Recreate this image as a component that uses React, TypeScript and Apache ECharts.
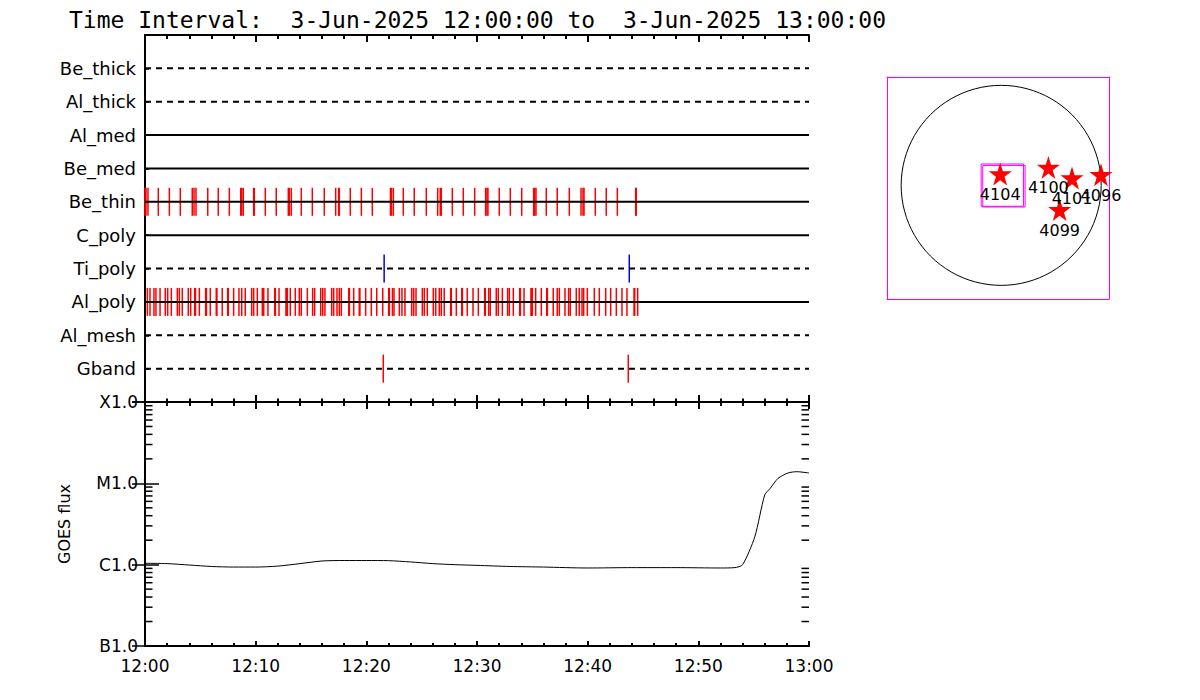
import React, { useEffect, useRef } from "react";
import * as echarts from "echarts";

// ---------- data ----------
const titleText = "Time Interval:  3-Jun-2025 12:00:00 to  3-Jun-2025 13:00:00";
const timeTickLabels = ["12:00", "12:10", "12:20", "12:30", "12:40", "12:50", "13:00"];

const rowNames = ["Be_thick", "Al_thick", "Al_med", "Be_med", "Be_thin", "C_poly", "Ti_poly", "Al_poly", "Al_mesh", "Gband"];
const rowDashed = [true, true, false, false, false, false, true, false, true, true];

// event times in minutes after 12:00
const beThinTimes = [0.0, 0.09, 0.27, 1.2, 2.2, 3.19, 4.27, 4.43, 4.61, 5.67, 6.62, 7.62, 8.65, 8.74, 8.88, 9.82, 9.88,
  10.87, 11.86, 12.95, 13.04, 13.22, 14.12, 15.12, 16.2, 17.23, 17.5, 17.56, 18.55, 19.55, 20.54, 22.18, 22.27, 22.44,
  23.34, 24.33, 25.42, 26.45, 26.68, 26.77, 27.77, 28.76, 29.79, 30.78, 30.9, 30.99, 32.01, 33.01, 34.04, 35.12, 35.21,
  35.33, 36.26, 37.25, 38.34, 39.4, 39.58, 39.67, 40.69, 41.68, 42.68, 44.34, 44.39];
const alPolyTimes = [0.21, 0.45, 0.81, 0.99, 1.36, 1.83, 2.05, 2.38, 2.92, 3.1, 3.37, 3.91, 4.13, 4.49, 4.56, 4.91, 5.48,
  5.55, 5.9, 6.44, 6.5, 6.98, 7.47, 7.53, 8.01, 8.49, 8.74, 9.06, 9.64, 9.82, 10.15, 10.6, 10.73, 11.11, 11.72, 11.78,
  12.11, 12.74, 12.8, 12.86, 13.13, 13.58, 13.94, 14.12, 14.67, 15.15, 15.33, 15.88, 16.06, 16.26, 16.87, 17.05, 17.35,
  17.56, 17.74, 18.41, 18.47, 18.86, 19.36, 19.42, 19.94, 20.45, 20.94, 21.48, 22.02, 22.08, 22.36, 22.5, 22.98, 23.22,
  23.49, 24.1, 24.28, 24.49, 25.06, 25.24, 25.51, 26.05, 26.27, 26.59, 26.77, 27.04, 27.62, 27.68, 28.13, 28.62, 28.68,
  29.12, 29.64, 30.12, 30.69, 30.75, 31.06, 31.2, 31.74, 31.92, 32.29, 32.77, 32.92, 33.28, 33.86, 33.92, 34.25, 34.88,
  34.94, 35.0, 35.3, 35.81, 36.3, 36.36, 36.89, 37.25, 37.44, 37.95, 38.28, 38.43, 38.97, 39.24, 39.49, 39.64, 39.97,
  40.6, 41.05, 41.63, 42.08, 42.59, 43.1, 43.55, 44.19, 44.25, 44.52];
const tiPolyTimes = [21.61, 43.76];
const gbandTimes = [21.53, 43.67];

// GOES 1-8 A flux (W/m^2)
const goesTimes = [0, 2, 4, 6, 8, 10, 12, 14, 16, 18, 20, 22, 24, 26, 28, 30, 33, 36, 40, 44, 48, 52, 53.3, 54.0,
  55.1, 56.0, 56.5, 57.2, 58.1, 58.9, 60];
const goesFlux = [1.04e-6, 1.03e-6, 0.99e-6, 0.95e-6, 0.935e-6, 0.935e-6, 0.96e-6, 1.03e-6, 1.11e-6, 1.125e-6,
  1.125e-6, 1.12e-6, 1.08e-6, 1.03e-6, 1.0e-6, 0.98e-6, 0.95e-6, 0.935e-6, 0.91e-6, 0.92e-6, 0.92e-6, 0.91e-6,
  0.92e-6, 1.0e-6, 2.2e-6, 7.2e-6, 8.7e-6, 1.15e-5, 1.34e-5, 1.39e-5, 1.34e-5];
const goesClassLabels = ["B1.0", "C1.0", "M1.0", "X1.0"]; // 1e-7 .. 1e-4
const goesMinorTicks = [
  2e-7, 3e-7, 4e-7, 5e-7, 6e-7, 7e-7, 8e-7, 9e-7,
  2e-6, 3e-6, 4e-6, 5e-6, 6e-6, 7e-6, 8e-6, 9e-6,
  2e-5, 3e-5, 4e-5, 5e-5, 6e-5, 7e-5, 8e-5, 9e-5,
];

// solar disk (arcsec)
const limbRadius = 946;
const arNumbers = ["4104", "4100", "4101", "4096", "4099"];
const arX = [-9, 447, 670, 944, 553];
const arY = [108, 170, 70, 101, -229];
const fovBoxes = [
  [11, 2, 400, 400],
  [26, -8, 400, 393],
];

const FONT = "DejaVu Sans";
const STAR = "path://M50,0 L61,35 L98,35 L68,57 L79,91 L50,70 L21,91 L32,57 L2,35 L39,35 Z";

const rowValue = (name: string) => rowNames.length - rowNames.indexOf(name);

export default function App() {
  const ref = useRef<HTMLDivElement>(null);
  useEffect(() => {
    if (!ref.current) return;
    const chart = echarts.init(ref.current, null, { renderer: "svg" });

    const timeAxis = (gridIndex: number, position: string, showLabel: boolean, tickLen: number, minorLen: number) => ({
      type: "value",
      gridIndex,
      position,
      min: 0,
      max: 60,
      interval: 10,
      axisLine: { show: true, onZero: false, lineStyle: { color: "#000", width: 2 } },
      axisTick: { show: true, inside: true, length: tickLen, lineStyle: { color: "#000", width: 2 } },
      minorTick: { show: true, splitNumber: 5, length: minorLen, lineStyle: { color: "#000", width: 2 } },
      splitLine: { show: false },
      axisLabel: {
        show: showLabel,
        margin: 11,
        color: "#000",
        fontFamily: FONT,
        fontSize: 17,
        formatter: (v: number) => timeTickLabels[Math.round(v / 10)] ?? "",
      },
    });

    const diskAxis = (gridIndex: number, position: string, min: number, max: number) => ({
      type: "value",
      gridIndex,
      position,
      min,
      max,
      axisLine: { show: true, onZero: false, lineStyle: { color: "#ff00ff", width: 1 } },
      axisTick: { show: false },
      axisLabel: { show: false },
      splitLine: { show: false },
    });

    const rowSeries = rowNames.map((name, i) => ({
      type: "line",
      xAxisIndex: 0,
      yAxisIndex: 0,
      data: [[0, rowValue(name)], [60, rowValue(name)]],
      symbol: "none",
      silent: true,
      z: 5,
      lineStyle: { color: "#000", width: 2, type: rowDashed[i] ? [6, 5] : "solid" },
    }));

    const eventSeries = (times: number[], row: string, color: string) => ({
      type: "scatter",
      xAxisIndex: 0,
      yAxisIndex: 0,
      data: times.map((t) => [t, rowValue(row)]),
      symbol: "rect",
      symbolSize: [1.5, 28],
      itemStyle: { color, opacity: 1 },
      silent: true,
      z: 3,
    });

    const option: any = {
      animation: false,
      backgroundColor: "#fff",
      title: {
        text: titleText,
        left: 64,
        top: 3,
        textStyle: { fontFamily: "DejaVu Sans Mono", fontSize: 23, fontWeight: "normal", color: "#000" },
      },
      grid: [
        { left: 145, top: 35, width: 664, height: 367 },
        { left: 145, top: 402, width: 664, height: 244 },
        { left: 887, top: 77, width: 222, height: 222 },
      ],
      xAxis: [
        timeAxis(0, "bottom", false, 7, 3.5),
        timeAxis(0, "top", false, 7, 4),
        timeAxis(1, "bottom", true, 5, 3),
        timeAxis(1, "top", false, 7, 4),
        diskAxis(2, "bottom", -1080, 1020),
        diskAxis(2, "top", -1080, 1020),
      ],
      yAxis: [
        {
          type: "value",
          gridIndex: 0,
          position: "left",
          min: 0,
          max: 11,
          interval: 1,
          axisLine: { show: true, lineStyle: { color: "#000", width: 2 } },
          axisTick: { show: true, inside: true, length: 4, lineStyle: { color: "#000", width: 1.5 } },
          splitLine: { show: false },
          axisLabel: {
            margin: 9,
            color: "#000",
            fontFamily: FONT,
            fontSize: 18,
            formatter: (v: number) => (v >= 1 && v <= rowNames.length ? rowNames[rowNames.length - v] : ""),
          },
        },
        {
          type: "value",
          gridIndex: 0,
          position: "right",
          min: 0,
          max: 11,
          interval: 1,
          axisLine: { show: true, lineStyle: { color: "#000", width: 2 } },
          axisTick: { show: false },
          splitLine: { show: false },
          axisLabel: { show: false },
        },
        {
          type: "log",
          logBase: 10,
          gridIndex: 1,
          position: "left",
          min: 1e-7,
          max: 1e-4,
          name: "GOES flux",
          nameLocation: "middle",
          nameRotate: 90,
          nameGap: 73,
          nameTextStyle: { fontFamily: FONT, fontSize: 16, color: "#000" },
          axisLine: { show: true, lineStyle: { color: "#000", width: 2 } },
          axisTick: { show: true, inside: true, length: 14, lineStyle: { color: "#000", width: 1.5 } },
          splitLine: { show: false },
          axisLabel: {
            margin: 7,
            color: "#000",
            fontFamily: FONT,
            fontSize: 17,
            formatter: (v: number) => goesClassLabels[Math.round(Math.log10(v)) + 7] ?? "",
          },
        },
        {
          type: "log",
          logBase: 10,
          gridIndex: 1,
          position: "right",
          min: 1e-7,
          max: 1e-4,
          axisLine: { show: true, lineStyle: { color: "#000", width: 2 } },
          axisTick: { show: true, inside: true, length: 13, lineStyle: { color: "#000", width: 1.5 } },
          splitLine: { show: false },
          axisLabel: { show: false },
        },
        diskAxis(2, "left", -1075, 1025),
        diskAxis(2, "right", -1075, 1025),
      ],
      series: [
        eventSeries(beThinTimes, "Be_thin", "#ff0000"),
        eventSeries(alPolyTimes, "Al_poly", "#ff0000"),
        eventSeries(tiPolyTimes, "Ti_poly", "#0000ff"),
        eventSeries(gbandTimes, "Gband", "#ff0000"),
        ...rowSeries,
        {
          type: "line",
          xAxisIndex: 2,
          yAxisIndex: 2,
          data: goesTimes.map((t, i) => [t, goesFlux[i]]),
          symbol: "none",
          smooth: 0.25,
          silent: true,
          lineStyle: { color: "#000", width: 1 },
        },
        {
          type: "custom",
          xAxisIndex: 2,
          yAxisIndex: 2,
          silent: true,
          data: goesMinorTicks.map((v) => [0, v]),
          renderItem: (params: any, api: any) => {
            const v = api.value(1);
            const pL = api.coord([0, v]);
            const pR = api.coord([60, v]);
            return {
              type: "group",
              children: [
                { type: "line", shape: { x1: pL[0], y1: pL[1], x2: pL[0] + 7.5, y2: pL[1] }, style: { stroke: "#000", lineWidth: 1.5 } },
                { type: "line", shape: { x1: pR[0] - 7.5, y1: pR[1], x2: pR[0], y2: pR[1] }, style: { stroke: "#000", lineWidth: 1.5 } },
              ],
            };
          },
        },
        {
          type: "custom",
          xAxisIndex: 4,
          yAxisIndex: 4,
          silent: true,
          data: [[0, 0, limbRadius]],
          renderItem: (params: any, api: any) => {
            const c = api.coord([api.value(0), api.value(1)]);
            const e = api.coord([api.value(0) + api.value(2), api.value(1)]);
            return {
              type: "circle",
              shape: { cx: c[0], cy: c[1], r: e[0] - c[0] },
              style: { fill: "none", stroke: "#000", lineWidth: 1 },
            };
          },
        },
        {
          type: "custom",
          xAxisIndex: 4,
          yAxisIndex: 4,
          silent: true,
          data: fovBoxes,
          renderItem: (params: any, api: any) => {
            const xc = api.value(0), yc = api.value(1), w = api.value(2), h = api.value(3);
            const p1 = api.coord([xc - w / 2, yc + h / 2]);
            const p2 = api.coord([xc + w / 2, yc - h / 2]);
            return {
              type: "rect",
              shape: { x: p1[0], y: p1[1], width: p2[0] - p1[0], height: p2[1] - p1[1] },
              style: { fill: "none", stroke: "#ff00ff", lineWidth: 1 },
            };
          },
        },
        {
          type: "scatter",
          xAxisIndex: 4,
          yAxisIndex: 4,
          silent: true,
          symbol: STAR,
          symbolSize: 23,
          itemStyle: { color: "#ff0000", opacity: 1 },
          data: arNumbers.map((n, i) => ({ name: n, value: [arX[i], arY[i]] })),
          label: {
            show: true,
            position: "bottom",
            distance: 1,
            formatter: "{b}",
            color: "#000",
            fontFamily: FONT,
            fontSize: 16,
          },
        },
      ],
    };
    chart.setOption(option);
    return () => chart.dispose();
  }, []);
  return <div ref={ref} style={{ position: "absolute", left: 0, top: 0, width: 1200, height: 700 }} />;
}
